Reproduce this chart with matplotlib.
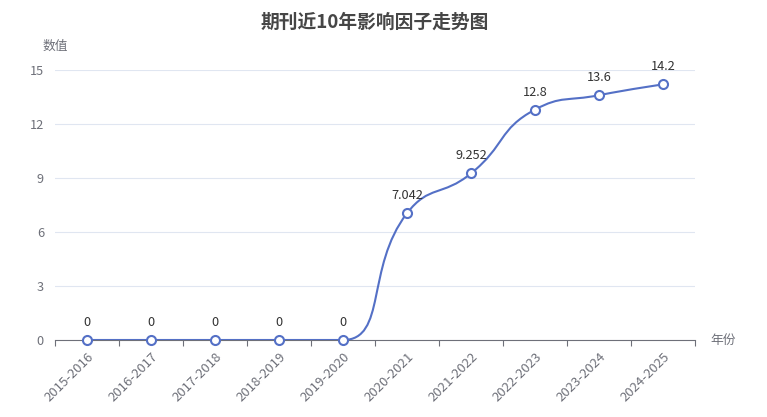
import numpy as np
import matplotlib
matplotlib.use("Agg")
import matplotlib.pyplot as plt
from matplotlib.path import Path
from matplotlib.patches import PathPatch

plt.rcParams['font.family'] = ['Noto Sans CJK SC', 'DejaVu Sans']

# data
years = ["2015-2016", "2016-2017", "2017-2018", "2018-2019", "2019-2020",
         "2020-2021", "2021-2022", "2022-2023", "2023-2024", "2024-2025"]
impact = [0, 0, 0, 0, 0, 7.042, 9.252, 12.8, 13.6, 14.2]
labels = ["0", "0", "0", "0", "0", "7.042", "9.252", "12.8", "13.6", "14.2"]
yticks = [0, 3, 6, 9, 12, 15]

line_color = '#5470c6'
axis_color = '#6e7079'

fig = plt.figure(figsize=(7.67, 4.17), dpi=100)
ax = fig.add_axes([55 / 767, 77 / 417, 640 / 767, 270 / 417])
n = len(years)
xs = np.arange(n)
ax.set_xlim(-0.5, n - 0.5)
ax.set_ylim(0, 15)


def smooth_path(px, py, smooth=0.5):
    # echarts-like bezier smoothing, done in pixel space
    verts = [(px[0], py[0])]
    codes = [Path.MOVETO]
    cpx0, cpy0 = px[0], py[0]
    for i in range(1, len(px)):
        x, y = px[i], py[i]
        prevX, prevY = px[i - 1], py[i - 1]
        if i == len(px) - 1:
            cpx1, cpy1 = x, y
            ncx, ncy = x, y
        else:
            nextX, nextY = px[i + 1], py[i + 1]
            vx, vy = nextX - prevX, nextY - prevY
            lp = np.hypot(x - prevX, y - prevY)
            ln = np.hypot(nextX - x, nextY - y)
            r = ln / (ln + lp)
            ncx = x + vx * smooth * r
            ncy = y + vy * smooth * r
            ncx = min(max(ncx, min(nextX, x)), max(nextX, x))
            ncy = min(max(ncy, min(nextY, y)), max(nextY, y))
            vx, vy = ncx - x, ncy - y
            cpx1 = x - vx * lp / ln
            cpy1 = y - vy * lp / ln
            cpx1 = min(max(cpx1, min(prevX, x)), max(prevX, x))
            cpy1 = min(max(cpy1, min(prevY, y)), max(prevY, y))
            vx, vy = x - cpx1, y - cpy1
            ncx = x + vx * ln / lp
            ncy = y + vy * ln / lp
        verts += [(cpx0, cpy0), (cpx1, cpy1), (x, y)]
        codes += [Path.CURVE4] * 3
        cpx0, cpy0 = ncx, ncy
    return verts, codes


pix = ax.transData.transform(np.column_stack([xs, impact]))
verts, codes = smooth_path(pix[:, 0], pix[:, 1])
verts = ax.transData.inverted().transform(np.array(verts))
ax.add_patch(PathPatch(Path(verts, codes), facecolor='none', edgecolor=line_color,
                       lw=1.5, zorder=3, capstyle='round', joinstyle='round'))
ax.plot(xs, impact, linestyle='none', marker='o', markersize=6.5,
        markerfacecolor='white', markeredgecolor=line_color,
        markeredgewidth=1.5, zorder=4, clip_on=False)

for x, v, t in zip(xs, impact, labels):
    ax.annotate(t, (x, v), xytext=(0, 11), textcoords='offset pixels',
                ha='center', va='bottom', fontsize=9.2, color='#333333')

# axes styling
ax.set_yticks(yticks)
ax.set_yticklabels([str(t) for t in yticks])
ax.grid(axis='y', color='#e0e6f1', lw=0.8)
ax.set_axisbelow(True)
for s in ['top', 'right', 'left']:
    ax.spines[s].set_visible(False)
ax.spines['bottom'].set_color(axis_color)
ax.spines['bottom'].set_linewidth(0.8)
ax.tick_params(axis='y', length=0, labelsize=9.2, labelcolor=axis_color, pad=8)

ax.set_xticks(np.arange(-0.5, n, 1), minor=False)
ax.set_xticklabels([])
ax.tick_params(axis='x', which='major', length=4, color=axis_color, width=0.8)
ax.set_xticks(xs, minor=True)
ax.set_xticklabels(years, minor=True, rotation=45, ha='right', va='top',
                   rotation_mode='anchor')
ax.tick_params(axis='x', which='minor', length=0, labelsize=9.5,
               labelcolor=axis_color, pad=7)

fig.text(375 / 767, 1 - 22 / 417, "期刊近10年影响因子走势图", ha='center', va='center',
         fontsize=13.5, fontweight='bold', color='#464646')
fig.text(55 / 767, 1 - 46 / 417, "数值", ha='center', va='center',
         fontsize=9.2, color=axis_color)
fig.text(710 / 767, 1 - 340 / 417, "年份", ha='left', va='center',
         fontsize=9.2, color=axis_color)

fig.savefig("out.png", dpi=100)
